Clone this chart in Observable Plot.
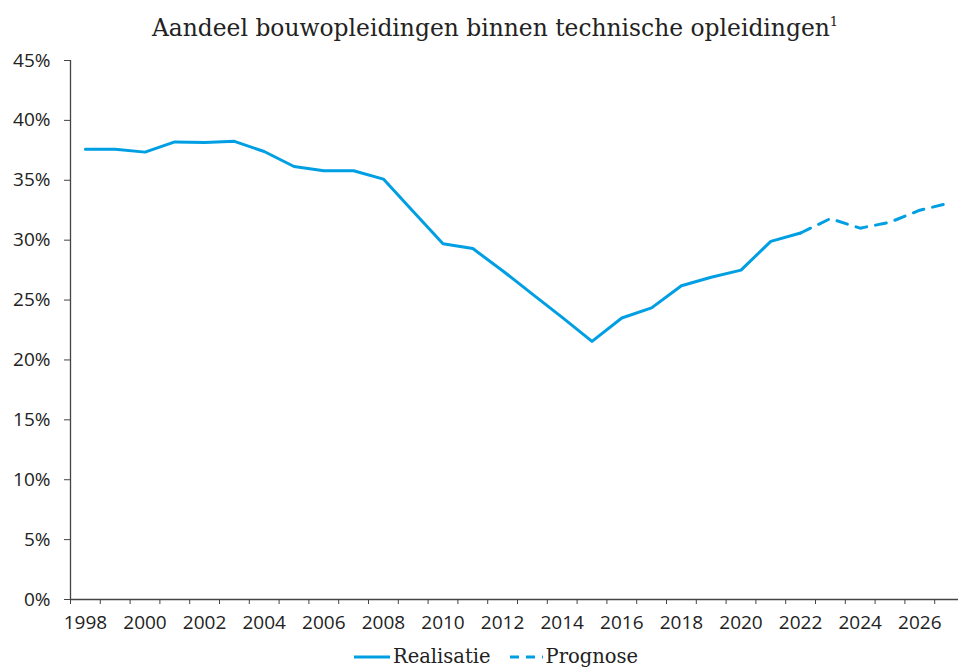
<!DOCTYPE html>
<html>
<head>
<meta charset="utf-8">
<script src="https://cdn.jsdelivr.net/npm/d3@7"></script>
<script src="https://cdn.jsdelivr.net/npm/@observablehq/plot@0.6"></script>
<style>
  body { margin: 0; background: #fff; width: 958px; height: 668px; overflow: hidden; }
  #title { height: 45px; width: 958px; box-sizing: border-box; padding-left: 32px; text-align: center;
    font-family: "DejaVu Serif", serif; font-size: 23.4px; color: #222; line-height: 56px; white-space: nowrap; }
  #title sup { font-size: 13px; vertical-align: 10px; line-height: 0; }
  #chart svg { display: block; }
  #legend { position: absolute; top: 645px; left: 0; width: 958px; padding-left: 34px; box-sizing: border-box;
    display: flex; justify-content: center; align-items: center; font-family: "DejaVu Serif", serif; font-size: 19.5px; color: #222; line-height: 24px; }
  .item { display: flex; align-items: center; margin: 0 9px; }
  .item svg { margin-right: 3px; }
</style>
</head>
<body>
<div id="title">Aandeel bouwopleidingen binnen technische opleidingen<sup>1</sup></div>
<div id="chart"></div>
<div id="legend">
  <div class="item"><svg width="36" height="6"><line x1="0" y1="3" x2="36" y2="3" stroke="#009fe3" stroke-width="3"/></svg><span>Realisatie</span></div>
  <div class="item"><svg width="34" height="6"><line x1="1" y1="3" x2="34" y2="3" stroke="#009fe3" stroke-width="3" stroke-dasharray="9,7"/></svg><span>Prognose</span></div>
</div>
<script>
const realisatieYears = [1998, 1999, 2000, 2001, 2002, 2003, 2004, 2005, 2006, 2007, 2008, 2009, 2010, 2011, 2012, 2013, 2014, 2015, 2016, 2017, 2018, 2019, 2020, 2021, 2022];
const realisatie = [37.6, 37.6, 37.35, 38.2, 38.15, 38.25, 37.4, 36.15, 35.8, 35.8, 35.1, 32.4, 29.7, 29.3, 27.45, 25.5, 23.55, 21.55, 23.5, 24.35, 26.2, 26.9, 27.5, 29.9, 30.6];
const prognoseYears = [2022, 2023, 2024, 2025, 2026, 2027];
const prognose = [30.6, 31.8, 31.0, 31.5, 32.5, 33.1];
const labelYears = [1998, 2000, 2002, 2004, 2006, 2008, 2010, 2012, 2014, 2016, 2018, 2020, 2022, 2024, 2026];
const yTicks = [0, 5, 10, 15, 20, 25, 30, 35, 40, 45];

const color = "#009fe3";
const realData = realisatieYears.map((year, i) => ({year, value: realisatie[i]}));
const progData = prognoseYears.map((year, i) => ({year, value: prognose[i]}));
const boundaries = [...realisatieYears, ...prognoseYears.slice(1)].map(y => y - 0.5).concat([2027.5]);

const tickFont = "'Open Sans', 'Noto Sans', sans-serif";

const plot = Plot.plot({
  width: 958,
  height: 600,
  marginLeft: 70,
  marginRight: 0,
  marginTop: 15,
  marginBottom: 46,
  style: { fontFamily: tickFont, fontSize: "19px", color: "#222", background: "#fff", overflow: "hidden" },
  x: { type: "linear", domain: [1997.5, 2027.5], range: [70, 964] },
  y: { domain: [0, 45] },
  marks: [
    Plot.axisY({ ticks: yTicks, tickFormat: d => d + "%", tickSize: 6, tickPadding: 14, label: null, stroke: "#444", fontSize: 19 }),
    Plot.ruleX([1997.5], { y1: 0, y2: 45, stroke: "#444", strokeWidth: 1.3 }),
    Plot.ruleY([0], { x1: 1997.5, x2: 2027.5, stroke: "#444", strokeWidth: 1.3 }),
    Plot.axisX({ ticks: boundaries, tickFormat: () => "", tickSize: 5, label: null, stroke: "#444" }),
    Plot.axisX({ ticks: labelYears, tickFormat: d => String(d), tickSize: 0, tickPadding: 16, label: null, fontSize: 19 }),
    Plot.line(realData, { x: "year", y: "value", stroke: color, strokeWidth: 3 }),
    Plot.line(progData, { x: "year", y: "value", stroke: color, strokeWidth: 3, strokeDasharray: "11,9" })
  ]
});
document.getElementById("chart").appendChild(plot);
</script>
</body>
</html>
